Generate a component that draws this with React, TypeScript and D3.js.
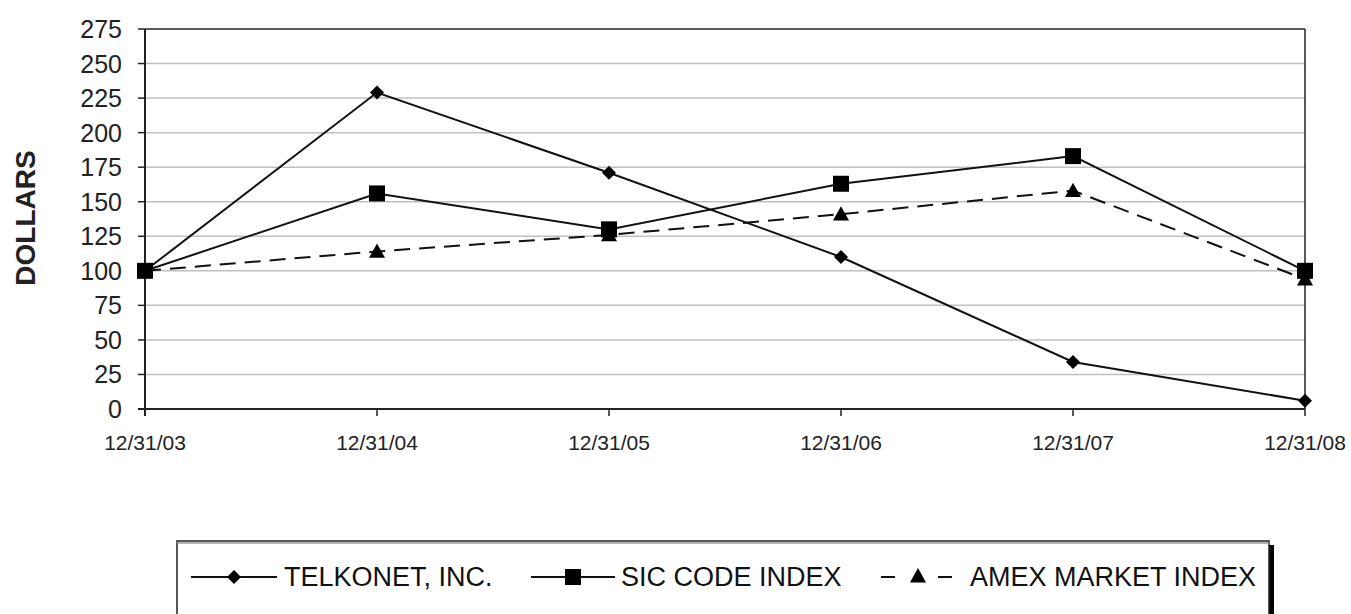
import React from "react";
import * as d3 from "d3";

const dates = ["12/31/03", "12/31/04", "12/31/05", "12/31/06", "12/31/07", "12/31/08"];
const telkonet = [100, 229, 171, 110, 34, 6];
const sicIndex = [100, 156, 130, 163, 183, 100];
const amexIndex = [100, 114, 126, 141, 158, 94];
const yTicks = [0, 25, 50, 75, 100, 125, 150, 175, 200, 225, 250, 275];
const seriesNames = ["TELKONET, INC.", "SIC CODE INDEX", "AMEX MARKET INDEX"];

const W = 1351, H = 614;
const left = 145, right = 1305, top = 29, bottom = 409;
const font = "'Liberation Sans', Arial, sans-serif";

export default function App() {
  const x = d3.scalePoint<string>().domain(dates).range([left, right]);
  const y = d3.scaleLinear().domain([0, 275]).range([bottom, top]);
  const line = d3.line<number>().x((_, i) => x(dates[i])!).y((d) => y(d));

  const diamond = (cx: number, cy: number, r = 7) =>
    `M${cx},${cy - r}L${cx + r},${cy}L${cx},${cy + r}L${cx - r},${cy}Z`;
  const square = (cx: number, cy: number, s = 16) => (
    <rect x={cx - s / 2} y={cy - s / 2} width={s} height={s} fill="#000" />
  );
  const triangle = (cx: number, cy: number, r = 8) =>
    `M${cx},${cy - r}L${cx + r},${cy + r * 0.8}L${cx - r},${cy + r * 0.8}Z`;

  const legY = 577;
  return (
    <svg width={W} height={H} style={{ position: "absolute", left: 0, top: 0, background: "#fff" }}>
      <rect width={W} height={H} fill="#fff" />
      {/* grid */}
      {yTicks.filter((t) => t > 0 && t < 275).map((t) => (
        <line key={t} x1={left} x2={right} y1={y(t)} y2={y(t)} stroke="#c0c0c0" strokeWidth={1.5} />
      ))}
      <line x1={left} x2={right} y1={y(275)} y2={y(275)} stroke="#222" strokeWidth={1.5} />
      <line x1={right} x2={right} y1={top} y2={bottom} stroke="#222" strokeWidth={1.5} />
      {/* axes */}
      <line x1={left} x2={left} y1={top} y2={bottom + 7} stroke="#222" strokeWidth={2} />
      <line x1={left - 7} x2={right} y1={bottom} y2={bottom} stroke="#222" strokeWidth={2} />
      {yTicks.map((t) => (
        <g key={t}>
          <line x1={left - 7} x2={left} y1={y(t)} y2={y(t)} stroke="#222" strokeWidth={1.5} />
          <text x={122} y={y(t)} dy="0.36em" textAnchor="end" fontFamily={font} fontSize={25} fill="#222">
            {t}
          </text>
        </g>
      ))}
      {dates.map((d) => (
        <g key={d}>
          <line x1={x(d)} x2={x(d)} y1={bottom} y2={bottom + 7} stroke="#222" strokeWidth={1.5} />
          <text x={x(d)} y={450} textAnchor="middle" fontFamily={font} fontSize={21} fill="#222">
            {d}
          </text>
        </g>
      ))}
      <text
        transform={`translate(35,218) rotate(-90)`}
        textAnchor="middle"
        fontFamily={font}
        fontWeight="bold"
        fontSize={28}
        fill="#222"
      >
        DOLLARS
      </text>
      {/* series */}
      <path d={line(amexIndex)!} fill="none" stroke="#111" strokeWidth={2} strokeDasharray="16,9" />
      <path d={line(sicIndex)!} fill="none" stroke="#111" strokeWidth={2} />
      <path d={line(telkonet)!} fill="none" stroke="#111" strokeWidth={2} />
      {amexIndex.map((v, i) => (
        <path key={"a" + i} d={triangle(x(dates[i])!, y(v))} fill="#000" />
      ))}
      {sicIndex.map((v, i) => (
        <g key={"s" + i}>{square(x(dates[i])!, y(v))}</g>
      ))}
      {telkonet.map((v, i) => (
        <path key={"t" + i} d={diamond(x(dates[i])!, y(v))} fill="#000" />
      ))}
      {/* legend */}
      <rect x={1268} y={545} width={6} height={72} fill="#000" />
      <rect x={177} y={541} width={1092} height={80} fill="#fff" stroke="#222" strokeWidth={1.5} />
      <line x1={177} x2={1269} y1={543} y2={543} stroke="#999" strokeWidth={1.5} />
      <g fontFamily={font} fontSize={27} fill="#111">
        <line x1={191} x2={277} y1={legY} y2={legY} stroke="#111" strokeWidth={2} />
        <path d={diamond(234, legY, 7)} fill="#000" />
        <text x={284} y={586}>{seriesNames[0]}</text>
        <line x1={531} x2={615} y1={legY} y2={legY} stroke="#111" strokeWidth={2} />
        {square(573, legY, 16)}
        <text x={621} y={586}>{seriesNames[1]}</text>
        <line x1={881} x2={895} y1={legY} y2={legY} stroke="#111" strokeWidth={2} />
        <line x1={938} x2={952} y1={legY} y2={legY} stroke="#111" strokeWidth={2} />
        <path d={triangle(918, legY - 1, 8)} fill="#000" />
        <text x={970} y={586}>{seriesNames[2]}</text>
      </g>
    </svg>
  );
}
